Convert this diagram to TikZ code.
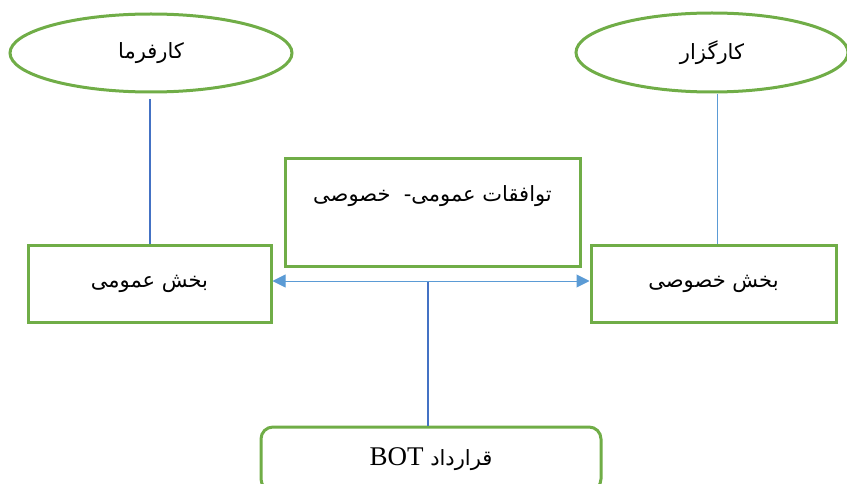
\documentclass[tikz,border=0pt]{standalone}
\usepackage{fontspec}
\usetikzlibrary{positioning,arrows.meta,shapes.geometric}
\TeXXeTstate=1
\newfontfamily\arabicfont[Script=Arabic]{DejaVu Sans}
\newfontfamily\latinfont{Liberation Serif}
\definecolor{boxgreen}{HTML}{70AD47}
\definecolor{darkblue}{HTML}{4472C4}
\definecolor{lightblue}{HTML}{5B9BD5}

\begin{document}
\begin{tikzpicture}[x=1pt, y=-1pt, >={Triangle[length=13pt, width=13pt]}, every node/.style={font=\fontsize{21}{25}\selectfont\arabicfont}]
  % compact, consistent block style
  \tikzset{block/.style={draw=boxgreen, line width=3pt, inner sep=0pt, align=center},
           party/.style={block, ellipse}}
  \useasboundingbox (0,0) rectangle (847,484);

  % nodes and layout
  \node[party, minimum width=282pt, minimum height=78pt] (boss) at (151,53) {\beginR کارفرما\endR};
  \node[party, minimum width=272pt, minimum height=79pt] (agent) at (712,52.5) {\beginR کارگزار\endR};
  \node[block, minimum width=243pt, minimum height=76pt] (pub) at (149.5,284) {\beginR بخش عمومی\endR};
  \node[block, minimum width=245pt, minimum height=76pt] (priv) at (713.5,284) {\beginR بخش خصوصی\endR};
  \node[block, minimum width=295pt, text height=43pt, text depth=65pt] (accord) at (432.5,157) [anchor=north] {\beginR توافقات عمومی-\ \ خصوصی\endR};
  \node[block, rounded corners=12pt, minimum width=340pt, minimum height=64pt] (contract) at (431,459) {\beginR قرارداد \beginL{\latinfont\fontsize{27}{30}\selectfont BOT}\endL\endR};

  \coordinate (bossfoot) at (150,99);
  \coordinate (agentfoot) at (717,94);
  \coordinate (joint) at (428,281);

  % connectors
  \draw[darkblue, line width=2pt] (bossfoot) -- (pub.north -| bossfoot);
  \draw[lightblue, line width=1pt] (agentfoot) -- (priv.north -| agentfoot);
  \draw[darkblue, line width=2pt] (contract.north -| joint) -- (joint);
  \draw[<->, lightblue, line width=1pt] (pub.east |- joint) -- (priv.west |- joint);
\end{tikzpicture}
\end{document}
